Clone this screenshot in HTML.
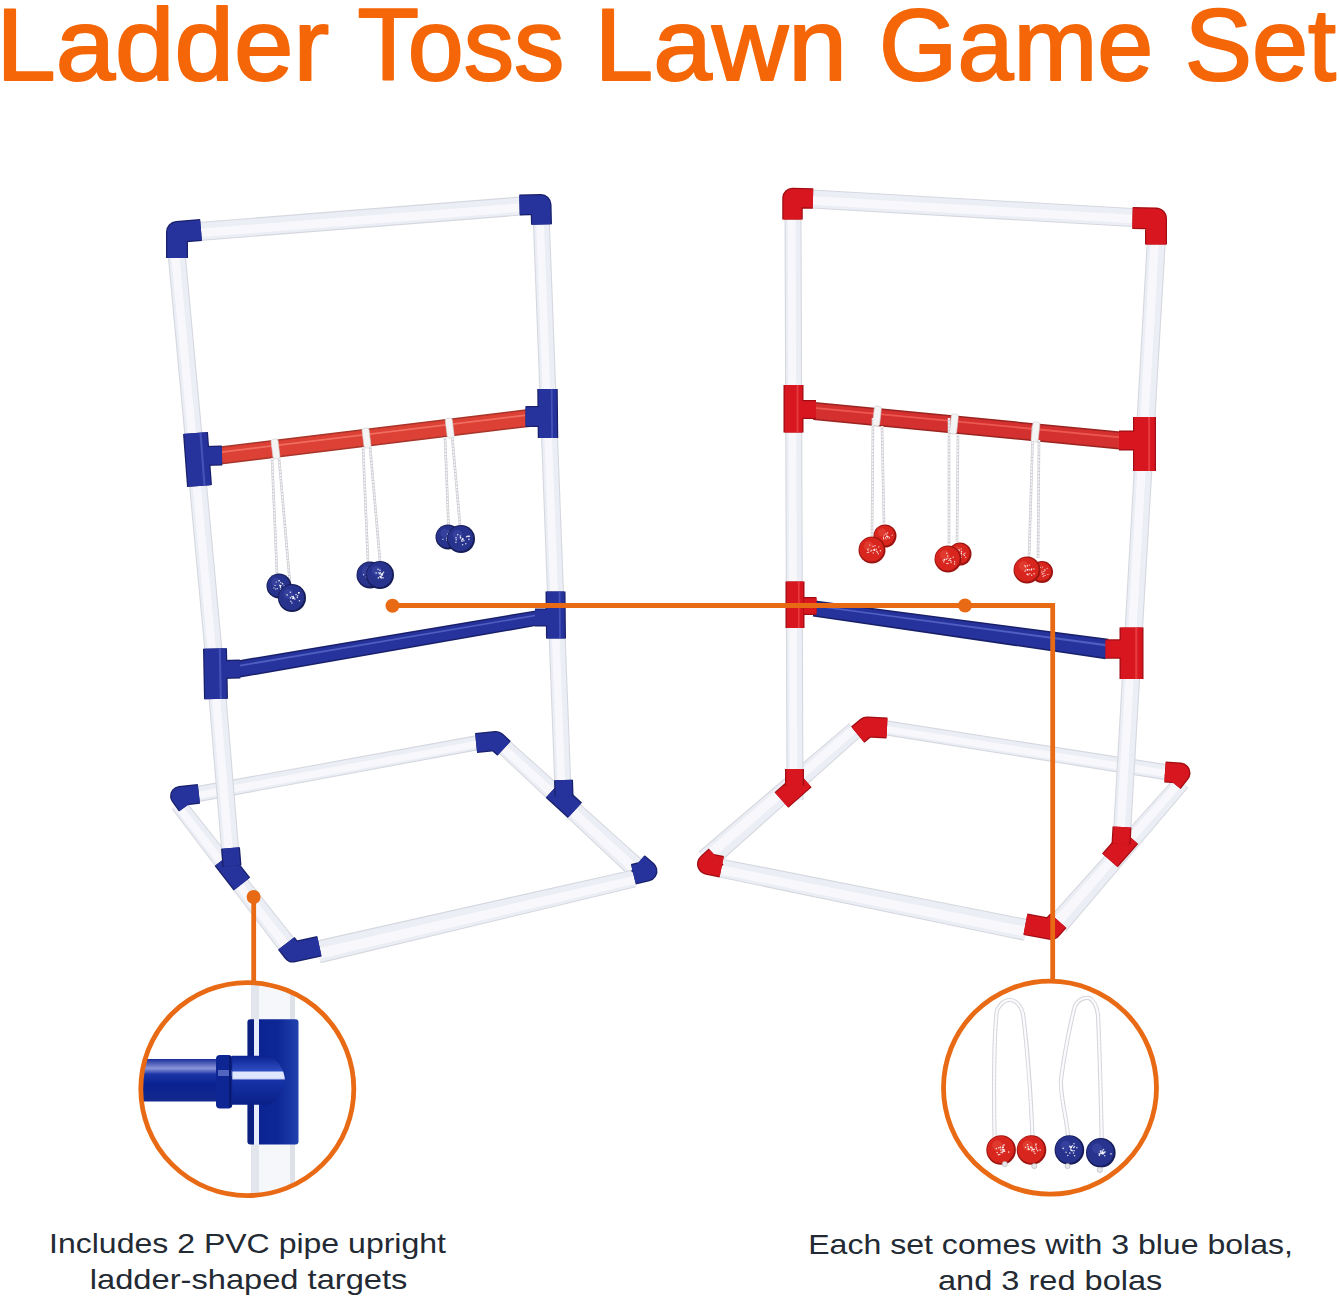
<!DOCTYPE html>
<html><head><meta charset="utf-8">
<style>
html,body{margin:0;padding:0;background:#ffffff;}
body{width:1339px;height:1300px;overflow:hidden;position:relative;}
svg{position:absolute;left:0;top:0;}
</style></head>
<body>
<svg width="1339" height="1300" viewBox="0 0 1339 1300">
<rect width="1339" height="1300" fill="#ffffff"/>
<g font-family="Liberation Sans, sans-serif" font-size="102.6" fill="#f46607" stroke="#f46607" stroke-width="2.1" stroke-linejoin="round">
<text transform="translate(-3.79,80) scale(1.0418,1)">Ladder</text>
<text transform="translate(357.52,80) scale(0.9807,1)">Toss</text>
<text transform="translate(594.6,80) scale(1.0289,1)">Lawn</text>
<text transform="translate(879.07,80) scale(0.9815,1)">Game</text>
<text transform="translate(1184.75,80) scale(0.9821,1)">Set</text>
</g>
<polygon points="199.4,801.9 477.4,750.4 474.6,735.6 196.6,786.1" fill="#d6d8df"/>
<polygon points="199.2,800.8 477.2,749.3 474.8,736.7 196.8,787.2" fill="#eceef5"/>
<polygon points="198.9,798.8 476.8,747.5 475.6,740.9 197.6,791.7" fill="#f8f8fc"/>
<polygon points="171.7,808.9 280.1,952.1 295.9,939.9 184.3,799.1" fill="#d6d8df"/>
<polygon points="172.5,808.2 281.0,951.5 295.0,940.5 183.5,799.8" fill="#eceef5"/>
<polygon points="174.1,807.0 283.2,949.7 290.3,944.2 179.8,802.6" fill="#f8f8fc"/>
<polygon points="496.3,751.3 628.9,875.7 643.1,860.3 507.7,738.7" fill="#d6d8df"/>
<polygon points="497.0,750.5 629.6,874.9 642.4,861.1 507.0,739.5" fill="#eceef5"/>
<polygon points="498.5,748.8 631.7,872.7 638.1,865.8 503.7,743.2" fill="#f8f8fc"/>
<polygon points="320.6,963.2 636.0,887.3 632.0,869.7 315.4,940.8" fill="#d6d8df"/>
<polygon points="320.4,962.1 635.8,886.2 632.2,870.8 315.6,941.9" fill="#eceef5"/>
<polygon points="319.6,958.8 635.2,883.8 633.4,876.0 317.2,948.8" fill="#f8f8fc"/>
<polygon points="166.8,245.8 206.5,673.8 224.5,672.2 184.8,244.2" fill="#d6d8df"/>
<polygon points="167.9,245.7 207.6,673.7 223.4,672.3 183.7,244.3" fill="#eceef5"/>
<polygon points="170.3,245.5 210.0,673.5 218.1,672.8 178.4,244.8" fill="#f8f8fc"/>
<polygon points="206.5,673.7 222.4,865.7 240.4,864.3 224.5,672.3" fill="#d6d8df"/>
<polygon points="207.6,673.7 223.5,865.7 239.3,864.3 223.4,672.3" fill="#eceef5"/>
<polygon points="210.0,673.5 225.9,865.5 234.0,864.8 218.1,672.8" fill="#f8f8fc"/>
<polygon points="532.6,215.3 554.7,795.3 571.7,794.7 549.6,214.7" fill="#d6d8df"/>
<polygon points="533.7,215.3 555.8,795.3 570.6,794.7 548.5,214.7" fill="#eceef5"/>
<polygon points="535.9,215.2 558.0,795.2 565.6,794.9 543.6,214.9" fill="#f8f8fc"/>
<polygon points="199.7,241.0 521.7,215.5 520.3,196.5 198.3,222.0" fill="#d6d8df"/>
<polygon points="199.7,239.9 521.7,214.4 520.3,197.6 198.3,223.1" fill="#eceef5"/>
<polygon points="199.5,237.3 521.5,211.8 520.8,203.3 198.8,228.8" fill="#f8f8fc"/>
<polygon points="221.1,464.4 530.1,426.9 527.9,409.1 218.9,446.6" fill="#a8342a"/>
<polygon points="220.9,462.9 529.9,425.4 528.1,410.6 219.1,448.1" fill="#dd4034"/>
<polygon points="219.7,453.2 528.7,415.7 528.5,413.9 219.5,451.4" fill="#ff9385" opacity="0.55"/>
<polygon points="237.5,678.1 538.3,625.6 535.7,610.4 234.5,660.9" fill="#18206a"/>
<polygon points="237.2,676.6 538.1,624.2 535.9,611.8 234.8,662.4" fill="#27339c"/>
<polygon points="235.6,667.3 536.7,616.0 536.4,614.5 235.3,665.5" fill="#6f82e0" opacity="0.55"/>
<path d="M201.0,230.0 L177.0,232.0 L177.0,258.0" fill="none" stroke="#18206a" stroke-width="22.0" stroke-linejoin="round"/>
<path d="M201.0,230.0 L177.0,232.0 L177.0,258.0" fill="none" stroke="#27339c" stroke-width="19.5" stroke-linejoin="round"/>
<path d="M519.5,205.0 L541.0,204.5 L541.5,224.5" fill="none" stroke="#18206a" stroke-width="21.0" stroke-linejoin="round"/>
<path d="M519.5,205.0 L541.0,204.5 L541.5,224.5" fill="none" stroke="#27339c" stroke-width="18.5" stroke-linejoin="round"/>
<line x1="195.5" y1="433.0" x2="199.5" y2="486.0" stroke="#18206a" stroke-width="25.0" stroke-linecap="butt"/>
<line x1="204.0" y1="456.0" x2="222.0" y2="455.5" stroke="#18206a" stroke-width="20.0" stroke-linecap="butt"/>
<line x1="195.5" y1="433.0" x2="199.5" y2="486.0" stroke="#27339c" stroke-width="22.5" stroke-linecap="butt"/>
<line x1="204.0" y1="456.0" x2="222.0" y2="455.5" stroke="#27339c" stroke-width="17.5" stroke-linecap="butt"/>
<line x1="200.5" y1="432.6" x2="204.5" y2="485.6" stroke="#6f82e0" stroke-width="2.2" stroke-linecap="butt" opacity="0.4"/>
<line x1="547.5" y1="389.0" x2="548.0" y2="438.0" stroke="#18206a" stroke-width="20.5" stroke-linecap="butt"/>
<line x1="525.5" y1="416.5" x2="541.0" y2="416.5" stroke="#18206a" stroke-width="21.0" stroke-linecap="butt"/>
<line x1="547.5" y1="389.0" x2="548.0" y2="438.0" stroke="#27339c" stroke-width="18.0" stroke-linecap="butt"/>
<line x1="525.5" y1="416.5" x2="541.0" y2="416.5" stroke="#27339c" stroke-width="18.5" stroke-linecap="butt"/>
<line x1="551.6" y1="389.0" x2="552.1" y2="438.0" stroke="#6f82e0" stroke-width="1.8" stroke-linecap="butt" opacity="0.4"/>
<line x1="215.0" y1="648.5" x2="216.0" y2="699.0" stroke="#18206a" stroke-width="24.0" stroke-linecap="butt"/>
<line x1="222.0" y1="669.5" x2="240.0" y2="669.0" stroke="#18206a" stroke-width="19.0" stroke-linecap="butt"/>
<line x1="215.0" y1="648.5" x2="216.0" y2="699.0" stroke="#27339c" stroke-width="21.5" stroke-linecap="butt"/>
<line x1="222.0" y1="669.5" x2="240.0" y2="669.0" stroke="#27339c" stroke-width="16.5" stroke-linecap="butt"/>
<line x1="219.8" y1="648.4" x2="220.8" y2="698.9" stroke="#6f82e0" stroke-width="2.2" stroke-linecap="butt" opacity="0.4"/>
<line x1="555.5" y1="591.5" x2="556.0" y2="638.5" stroke="#18206a" stroke-width="20.0" stroke-linecap="butt"/>
<line x1="535.0" y1="617.5" x2="549.0" y2="617.5" stroke="#18206a" stroke-width="18.0" stroke-linecap="butt"/>
<line x1="555.5" y1="591.5" x2="556.0" y2="638.5" stroke="#27339c" stroke-width="17.5" stroke-linecap="butt"/>
<line x1="535.0" y1="617.5" x2="549.0" y2="617.5" stroke="#27339c" stroke-width="15.5" stroke-linecap="butt"/>
<line x1="559.5" y1="591.5" x2="560.0" y2="638.5" stroke="#6f82e0" stroke-width="1.8" stroke-linecap="butt" opacity="0.4"/>
<path d="M198.9,793.9 L180.0,796.0 L187.0,805.7" fill="none" stroke="#18206a" stroke-width="20.0" stroke-linejoin="round"/>
<path d="M198.9,793.9 L180.0,796.0 L187.0,805.7" fill="none" stroke="#27339c" stroke-width="17.5" stroke-linejoin="round"/>
<path d="M476.1,743.0 L496.0,741.0 L504.1,748.4" fill="none" stroke="#18206a" stroke-width="20.0" stroke-linejoin="round"/>
<path d="M476.1,743.0 L496.0,741.0 L504.1,748.4" fill="none" stroke="#27339c" stroke-width="17.5" stroke-linejoin="round"/>
<path d="M633.4,874.3 L647.0,871.0 L637.9,863.1" fill="none" stroke="#18206a" stroke-width="21.0" stroke-linejoin="round"/>
<path d="M633.4,874.3 L647.0,871.0 L637.9,863.1" fill="none" stroke="#27339c" stroke-width="18.5" stroke-linejoin="round"/>
<path d="M319.4,946.3 L293.0,952.0 L286.3,943.3" fill="none" stroke="#18206a" stroke-width="21.0" stroke-linejoin="round"/>
<path d="M319.4,946.3 L293.0,952.0 L286.3,943.3" fill="none" stroke="#27339c" stroke-width="18.5" stroke-linejoin="round"/>
<line x1="222.9" y1="859.6" x2="241.9" y2="884.0" stroke="#18206a" stroke-width="21.0" stroke-linecap="butt"/>
<line x1="222.9" y1="859.6" x2="241.9" y2="884.0" stroke="#27339c" stroke-width="18.5" stroke-linecap="butt"/>
<line x1="230.5" y1="848.0" x2="232.0" y2="866.0" stroke="#18206a" stroke-width="19.0" stroke-linecap="butt"/>
<line x1="230.5" y1="848.0" x2="232.0" y2="866.0" stroke="#27339c" stroke-width="16.5" stroke-linecap="butt"/>
<line x1="552.8" y1="790.0" x2="574.9" y2="810.3" stroke="#18206a" stroke-width="21.0" stroke-linecap="butt"/>
<line x1="552.8" y1="790.0" x2="574.9" y2="810.3" stroke="#27339c" stroke-width="18.5" stroke-linecap="butt"/>
<line x1="563.5" y1="780.0" x2="564.0" y2="796.0" stroke="#18206a" stroke-width="19.0" stroke-linecap="butt"/>
<line x1="563.5" y1="780.0" x2="564.0" y2="796.0" stroke="#27339c" stroke-width="16.5" stroke-linecap="butt"/>
<path d="M272.0,458.0 L277.0,574.0" fill="none" stroke="#cdcdd3" stroke-width="2.6" stroke-linejoin="round"/>
<path d="M272.0,458.0 L277.0,574.0" fill="none" stroke="#fafafc" stroke-width="1.3" stroke-linejoin="round" stroke-dasharray="2 1.2"/>
<path d="M279.0,458.0 L290.0,584.0" fill="none" stroke="#cdcdd3" stroke-width="2.6" stroke-linejoin="round"/>
<path d="M279.0,458.0 L290.0,584.0" fill="none" stroke="#fafafc" stroke-width="1.3" stroke-linejoin="round" stroke-dasharray="2 1.2"/>
<path d="M363.0,447.0 L368.0,562.0" fill="none" stroke="#cdcdd3" stroke-width="2.6" stroke-linejoin="round"/>
<path d="M363.0,447.0 L368.0,562.0" fill="none" stroke="#fafafc" stroke-width="1.3" stroke-linejoin="round" stroke-dasharray="2 1.2"/>
<path d="M370.0,446.0 L380.0,561.0" fill="none" stroke="#cdcdd3" stroke-width="2.6" stroke-linejoin="round"/>
<path d="M370.0,446.0 L380.0,561.0" fill="none" stroke="#fafafc" stroke-width="1.3" stroke-linejoin="round" stroke-dasharray="2 1.2"/>
<path d="M445.0,437.0 L448.5,525.0" fill="none" stroke="#cdcdd3" stroke-width="2.6" stroke-linejoin="round"/>
<path d="M445.0,437.0 L448.5,525.0" fill="none" stroke="#fafafc" stroke-width="1.3" stroke-linejoin="round" stroke-dasharray="2 1.2"/>
<path d="M452.0,435.0 L460.0,525.0" fill="none" stroke="#cdcdd3" stroke-width="2.6" stroke-linejoin="round"/>
<path d="M452.0,435.0 L460.0,525.0" fill="none" stroke="#fafafc" stroke-width="1.3" stroke-linejoin="round" stroke-dasharray="2 1.2"/>
<rect x="272.0" y="439.0" width="7" height="20.0" rx="2" fill="#f4f4f4" stroke="#d0d0d0" stroke-width="0.6" transform="rotate(-7 275.5 449.0)"/>
<rect x="363.0" y="428.0" width="7" height="20.0" rx="2" fill="#f4f4f4" stroke="#d0d0d0" stroke-width="0.6" transform="rotate(-7 366.5 438.0)"/>
<rect x="446.2" y="418.0" width="7" height="20.0" rx="2" fill="#f4f4f4" stroke="#d0d0d0" stroke-width="0.6" transform="rotate(-7 449.7 428.0)"/>
<circle cx="279.0" cy="586.0" r="12.5" fill="#161c58"/>
<circle cx="278.5" cy="585.5" r="11.1" fill="#28338e"/>
<circle cx="275.9" cy="582.2" r="4.4" fill="#4a58b8" opacity="0.35"/>
<circle cx="280.8" cy="589.3" r="0.7" fill="#ffffff" opacity="0.8"/>
<circle cx="277.4" cy="588.6" r="0.7" fill="#ffffff" opacity="0.8"/>
<circle cx="280.2" cy="585.7" r="0.7" fill="#ffffff" opacity="0.8"/>
<circle cx="286.8" cy="586.4" r="0.7" fill="#ffffff" opacity="0.8"/>
<circle cx="280.4" cy="587.4" r="0.7" fill="#ffffff" opacity="0.8"/>
<circle cx="284.0" cy="585.9" r="0.7" fill="#ffffff" opacity="0.8"/>
<circle cx="282.3" cy="583.5" r="0.7" fill="#ffffff" opacity="0.8"/>
<circle cx="279.8" cy="585.3" r="0.7" fill="#ffffff" opacity="0.8"/>
<circle cx="276.2" cy="582.1" r="0.7" fill="#ffffff" opacity="0.8"/>
<circle cx="275.0" cy="585.4" r="0.7" fill="#ffffff" opacity="0.8"/>
<circle cx="280.3" cy="585.7" r="0.7" fill="#ffffff" opacity="0.8"/>
<circle cx="280.7" cy="582.5" r="0.7" fill="#ffffff" opacity="0.8"/>
<circle cx="280.4" cy="586.2" r="0.7" fill="#ffffff" opacity="0.8"/>
<circle cx="282.8" cy="583.9" r="0.7" fill="#ffffff" opacity="0.8"/>
<circle cx="279.2" cy="580.8" r="0.7" fill="#ffffff" opacity="0.8"/>
<circle cx="278.9" cy="580.6" r="0.7" fill="#ffffff" opacity="0.8"/>
<circle cx="275.8" cy="589.0" r="0.7" fill="#ffffff" opacity="0.8"/>
<circle cx="273.9" cy="587.9" r="0.7" fill="#ffffff" opacity="0.8"/>
<circle cx="281.0" cy="585.6" r="0.7" fill="#ffffff" opacity="0.8"/>
<circle cx="292.0" cy="598.0" r="14.0" fill="#161c58"/>
<circle cx="291.5" cy="597.5" r="12.6" fill="#28338e"/>
<circle cx="288.5" cy="593.8" r="4.9" fill="#4a58b8" opacity="0.35"/>
<circle cx="294.9" cy="599.1" r="0.8" fill="#ffffff" opacity="0.8"/>
<circle cx="297.3" cy="597.4" r="0.8" fill="#ffffff" opacity="0.8"/>
<circle cx="291.9" cy="596.6" r="0.8" fill="#ffffff" opacity="0.8"/>
<circle cx="290.4" cy="597.9" r="0.8" fill="#ffffff" opacity="0.8"/>
<circle cx="290.8" cy="601.2" r="0.8" fill="#ffffff" opacity="0.8"/>
<circle cx="287.1" cy="594.9" r="0.8" fill="#ffffff" opacity="0.8"/>
<circle cx="290.4" cy="592.3" r="0.8" fill="#ffffff" opacity="0.8"/>
<circle cx="298.8" cy="592.8" r="0.8" fill="#ffffff" opacity="0.8"/>
<circle cx="293.0" cy="597.0" r="0.8" fill="#ffffff" opacity="0.8"/>
<circle cx="298.9" cy="593.0" r="0.8" fill="#ffffff" opacity="0.8"/>
<circle cx="297.6" cy="595.8" r="0.8" fill="#ffffff" opacity="0.8"/>
<circle cx="293.3" cy="596.6" r="0.8" fill="#ffffff" opacity="0.8"/>
<circle cx="296.0" cy="594.6" r="0.8" fill="#ffffff" opacity="0.8"/>
<circle cx="293.6" cy="598.4" r="0.8" fill="#ffffff" opacity="0.8"/>
<circle cx="298.7" cy="592.7" r="0.8" fill="#ffffff" opacity="0.8"/>
<circle cx="299.4" cy="600.8" r="0.8" fill="#ffffff" opacity="0.8"/>
<circle cx="292.6" cy="598.5" r="0.8" fill="#ffffff" opacity="0.8"/>
<circle cx="291.9" cy="603.0" r="0.8" fill="#ffffff" opacity="0.8"/>
<circle cx="293.9" cy="597.8" r="0.8" fill="#ffffff" opacity="0.8"/>
<circle cx="293.4" cy="597.8" r="0.8" fill="#ffffff" opacity="0.8"/>
<circle cx="370.0" cy="575.0" r="13.5" fill="#161c58"/>
<circle cx="369.5" cy="574.5" r="12.1" fill="#28338e"/>
<circle cx="366.6" cy="571.0" r="4.7" fill="#4a58b8" opacity="0.35"/>
<circle cx="371.1" cy="572.9" r="0.7" fill="#ffffff" opacity="0.8"/>
<circle cx="377.4" cy="570.7" r="0.7" fill="#ffffff" opacity="0.8"/>
<circle cx="363.5" cy="574.8" r="0.7" fill="#ffffff" opacity="0.8"/>
<circle cx="371.4" cy="575.5" r="0.7" fill="#ffffff" opacity="0.8"/>
<circle cx="371.4" cy="574.9" r="0.7" fill="#ffffff" opacity="0.8"/>
<circle cx="372.7" cy="577.5" r="0.7" fill="#ffffff" opacity="0.8"/>
<circle cx="370.6" cy="574.4" r="0.7" fill="#ffffff" opacity="0.8"/>
<circle cx="378.4" cy="576.5" r="0.7" fill="#ffffff" opacity="0.8"/>
<circle cx="368.6" cy="580.7" r="0.7" fill="#ffffff" opacity="0.8"/>
<circle cx="374.1" cy="573.5" r="0.7" fill="#ffffff" opacity="0.8"/>
<circle cx="367.5" cy="575.8" r="0.7" fill="#ffffff" opacity="0.8"/>
<circle cx="368.6" cy="572.0" r="0.7" fill="#ffffff" opacity="0.8"/>
<circle cx="366.9" cy="573.5" r="0.7" fill="#ffffff" opacity="0.8"/>
<circle cx="375.4" cy="573.8" r="0.7" fill="#ffffff" opacity="0.8"/>
<circle cx="366.3" cy="577.0" r="0.7" fill="#ffffff" opacity="0.8"/>
<circle cx="371.8" cy="576.9" r="0.7" fill="#ffffff" opacity="0.8"/>
<circle cx="375.8" cy="574.5" r="0.7" fill="#ffffff" opacity="0.8"/>
<circle cx="371.5" cy="575.0" r="0.7" fill="#ffffff" opacity="0.8"/>
<circle cx="367.6" cy="576.9" r="0.7" fill="#ffffff" opacity="0.8"/>
<circle cx="376.6" cy="575.5" r="0.7" fill="#ffffff" opacity="0.8"/>
<circle cx="380.0" cy="575.0" r="14.0" fill="#161c58"/>
<circle cx="379.5" cy="574.5" r="12.6" fill="#28338e"/>
<circle cx="376.5" cy="570.8" r="4.9" fill="#4a58b8" opacity="0.35"/>
<circle cx="381.3" cy="574.7" r="0.8" fill="#ffffff" opacity="0.8"/>
<circle cx="378.9" cy="572.8" r="0.8" fill="#ffffff" opacity="0.8"/>
<circle cx="380.4" cy="572.9" r="0.8" fill="#ffffff" opacity="0.8"/>
<circle cx="380.0" cy="570.2" r="0.8" fill="#ffffff" opacity="0.8"/>
<circle cx="382.2" cy="575.1" r="0.8" fill="#ffffff" opacity="0.8"/>
<circle cx="378.0" cy="569.2" r="0.8" fill="#ffffff" opacity="0.8"/>
<circle cx="381.7" cy="578.1" r="0.8" fill="#ffffff" opacity="0.8"/>
<circle cx="379.4" cy="573.8" r="0.8" fill="#ffffff" opacity="0.8"/>
<circle cx="380.0" cy="576.6" r="0.8" fill="#ffffff" opacity="0.8"/>
<circle cx="378.3" cy="577.9" r="0.8" fill="#ffffff" opacity="0.8"/>
<circle cx="380.7" cy="577.4" r="0.8" fill="#ffffff" opacity="0.8"/>
<circle cx="381.7" cy="574.8" r="0.8" fill="#ffffff" opacity="0.8"/>
<circle cx="376.1" cy="572.9" r="0.8" fill="#ffffff" opacity="0.8"/>
<circle cx="381.0" cy="576.4" r="0.8" fill="#ffffff" opacity="0.8"/>
<circle cx="382.3" cy="573.5" r="0.8" fill="#ffffff" opacity="0.8"/>
<circle cx="383.1" cy="577.7" r="0.8" fill="#ffffff" opacity="0.8"/>
<circle cx="381.4" cy="574.4" r="0.8" fill="#ffffff" opacity="0.8"/>
<circle cx="380.5" cy="577.0" r="0.8" fill="#ffffff" opacity="0.8"/>
<circle cx="383.5" cy="572.4" r="0.8" fill="#ffffff" opacity="0.8"/>
<circle cx="382.6" cy="574.1" r="0.8" fill="#ffffff" opacity="0.8"/>
<circle cx="448.0" cy="537.0" r="12.5" fill="#161c58"/>
<circle cx="447.5" cy="536.5" r="11.1" fill="#28338e"/>
<circle cx="444.9" cy="533.2" r="4.4" fill="#4a58b8" opacity="0.35"/>
<circle cx="447.0" cy="540.3" r="0.7" fill="#ffffff" opacity="0.8"/>
<circle cx="452.0" cy="535.2" r="0.7" fill="#ffffff" opacity="0.8"/>
<circle cx="449.6" cy="537.7" r="0.7" fill="#ffffff" opacity="0.8"/>
<circle cx="448.1" cy="536.8" r="0.7" fill="#ffffff" opacity="0.8"/>
<circle cx="451.7" cy="532.3" r="0.7" fill="#ffffff" opacity="0.8"/>
<circle cx="450.3" cy="538.5" r="0.7" fill="#ffffff" opacity="0.8"/>
<circle cx="451.2" cy="533.4" r="0.7" fill="#ffffff" opacity="0.8"/>
<circle cx="450.4" cy="535.1" r="0.7" fill="#ffffff" opacity="0.8"/>
<circle cx="451.0" cy="538.3" r="0.7" fill="#ffffff" opacity="0.8"/>
<circle cx="450.0" cy="535.4" r="0.7" fill="#ffffff" opacity="0.8"/>
<circle cx="447.7" cy="539.1" r="0.7" fill="#ffffff" opacity="0.8"/>
<circle cx="446.8" cy="538.2" r="0.7" fill="#ffffff" opacity="0.8"/>
<circle cx="450.5" cy="536.5" r="0.7" fill="#ffffff" opacity="0.8"/>
<circle cx="456.6" cy="537.2" r="0.7" fill="#ffffff" opacity="0.8"/>
<circle cx="454.9" cy="532.9" r="0.7" fill="#ffffff" opacity="0.8"/>
<circle cx="443.0" cy="539.3" r="0.7" fill="#ffffff" opacity="0.8"/>
<circle cx="451.0" cy="536.4" r="0.7" fill="#ffffff" opacity="0.8"/>
<circle cx="449.3" cy="532.0" r="0.7" fill="#ffffff" opacity="0.8"/>
<circle cx="447.5" cy="534.3" r="0.7" fill="#ffffff" opacity="0.8"/>
<circle cx="461.0" cy="539.0" r="14.0" fill="#161c58"/>
<circle cx="460.5" cy="538.5" r="12.6" fill="#28338e"/>
<circle cx="457.5" cy="534.8" r="4.9" fill="#4a58b8" opacity="0.35"/>
<circle cx="462.0" cy="541.2" r="0.8" fill="#ffffff" opacity="0.8"/>
<circle cx="462.8" cy="539.5" r="0.8" fill="#ffffff" opacity="0.8"/>
<circle cx="460.6" cy="538.0" r="0.8" fill="#ffffff" opacity="0.8"/>
<circle cx="462.8" cy="538.7" r="0.8" fill="#ffffff" opacity="0.8"/>
<circle cx="467.5" cy="536.3" r="0.8" fill="#ffffff" opacity="0.8"/>
<circle cx="469.4" cy="536.2" r="0.8" fill="#ffffff" opacity="0.8"/>
<circle cx="466.6" cy="536.7" r="0.8" fill="#ffffff" opacity="0.8"/>
<circle cx="468.9" cy="539.4" r="0.8" fill="#ffffff" opacity="0.8"/>
<circle cx="463.9" cy="540.8" r="0.8" fill="#ffffff" opacity="0.8"/>
<circle cx="460.4" cy="536.0" r="0.8" fill="#ffffff" opacity="0.8"/>
<circle cx="455.9" cy="542.3" r="0.8" fill="#ffffff" opacity="0.8"/>
<circle cx="460.5" cy="537.5" r="0.8" fill="#ffffff" opacity="0.8"/>
<circle cx="462.6" cy="544.8" r="0.8" fill="#ffffff" opacity="0.8"/>
<circle cx="456.2" cy="539.8" r="0.8" fill="#ffffff" opacity="0.8"/>
<circle cx="461.7" cy="540.1" r="0.8" fill="#ffffff" opacity="0.8"/>
<circle cx="456.0" cy="537.8" r="0.8" fill="#ffffff" opacity="0.8"/>
<circle cx="465.8" cy="543.7" r="0.8" fill="#ffffff" opacity="0.8"/>
<circle cx="468.6" cy="536.4" r="0.8" fill="#ffffff" opacity="0.8"/>
<circle cx="462.7" cy="539.0" r="0.8" fill="#ffffff" opacity="0.8"/>
<circle cx="457.7" cy="534.8" r="0.8" fill="#ffffff" opacity="0.8"/>
<polygon points="885.8,735.4 1163.7,779.9 1166.3,764.1 888.2,720.6" fill="#d6d8df"/>
<polygon points="886.0,734.3 1163.9,778.8 1166.1,765.2 888.0,721.7" fill="#eceef5"/>
<polygon points="886.3,732.5 1164.2,776.8 1165.4,769.7 887.3,725.9" fill="#f8f8fc"/>
<polygon points="849.1,723.2 698.6,851.5 713.4,868.5 860.9,736.8" fill="#d6d8df"/>
<polygon points="849.8,724.0 699.3,852.4 712.7,867.6 860.2,736.0" fill="#eceef5"/>
<polygon points="851.4,725.9 701.5,854.8 708.1,862.5 856.7,732.0" fill="#f8f8fc"/>
<polygon points="718.1,877.3 1023.8,940.8 1028.2,919.2 721.9,858.7" fill="#d6d8df"/>
<polygon points="718.3,876.2 1024.0,939.7 1028.0,920.3 721.7,859.8" fill="#eceef5"/>
<polygon points="718.8,873.7 1024.7,936.6 1026.6,926.9 720.5,865.3" fill="#f8f8fc"/>
<polygon points="1175.6,776.4 1049.7,916.8 1066.3,931.2 1188.4,787.6" fill="#d6d8df"/>
<polygon points="1176.4,777.1 1050.5,917.5 1065.5,930.5 1187.6,786.9" fill="#eceef5"/>
<polygon points="1178.1,778.6 1052.9,919.6 1060.4,926.1 1183.9,783.6" fill="#f8f8fc"/>
<polygon points="784.5,210.0 786.5,800.0 803.5,800.0 801.5,210.0" fill="#d6d8df"/>
<polygon points="785.6,210.0 787.6,800.0 802.4,800.0 800.4,210.0" fill="#eceef5"/>
<polygon points="787.8,210.0 789.8,800.0 797.4,800.0 795.5,210.0" fill="#f8f8fc"/>
<polygon points="1147.1,235.4 1112.0,849.5 1130.0,850.5 1166.1,236.6" fill="#d6d8df"/>
<polygon points="1148.2,235.5 1113.1,849.5 1128.9,850.5 1165.0,236.5" fill="#eceef5"/>
<polygon points="1150.8,235.7 1115.5,849.7 1123.6,850.2 1159.3,236.2" fill="#f8f8fc"/>
<polygon points="811.5,208.5 1131.5,227.0 1132.5,208.0 812.5,189.5" fill="#d6d8df"/>
<polygon points="811.5,207.4 1131.5,225.9 1132.5,209.1 812.5,190.6" fill="#eceef5"/>
<polygon points="811.7,204.8 1131.7,223.3 1132.2,214.7 812.2,196.2" fill="#f8f8fc"/>
<polygon points="813.1,420.0 1119.1,449.5 1120.9,431.5 814.9,402.0" fill="#9a2420"/>
<polygon points="813.3,418.5 1119.3,448.0 1120.7,433.0 814.7,403.5" fill="#d43030"/>
<polygon points="814.2,408.7 1120.2,438.2 1120.4,436.4 814.4,406.9" fill="#ff7a6a" opacity="0.55"/>
<polygon points="812.9,616.4 1105.6,659.2 1108.4,638.8 815.1,600.6" fill="#18206a"/>
<polygon points="813.1,614.9 1105.8,657.7 1108.2,640.3 814.9,602.1" fill="#27339c"/>
<polygon points="814.3,606.4 1107.4,646.4 1107.6,644.3 814.5,604.9" fill="#6f82e0" opacity="0.55"/>
<path d="M813.0,198.5 L792.5,198.0 L792.5,219.5" fill="none" stroke="#a00d12" stroke-width="20.5" stroke-linejoin="round"/>
<path d="M813.0,198.5 L792.5,198.0 L792.5,219.5" fill="none" stroke="#d8161f" stroke-width="18.0" stroke-linejoin="round"/>
<path d="M1132.5,218.0 L1156.0,218.5 L1156.0,244.5" fill="none" stroke="#a00d12" stroke-width="22.0" stroke-linejoin="round"/>
<path d="M1132.5,218.0 L1156.0,218.5 L1156.0,244.5" fill="none" stroke="#d8161f" stroke-width="19.5" stroke-linejoin="round"/>
<line x1="793.5" y1="385.0" x2="793.5" y2="432.5" stroke="#a00d12" stroke-width="20.0" stroke-linecap="butt"/>
<line x1="802.0" y1="409.5" x2="816.0" y2="409.5" stroke="#a00d12" stroke-width="19.0" stroke-linecap="butt"/>
<line x1="793.5" y1="385.0" x2="793.5" y2="432.5" stroke="#d8161f" stroke-width="17.5" stroke-linecap="butt"/>
<line x1="802.0" y1="409.5" x2="816.0" y2="409.5" stroke="#d8161f" stroke-width="16.5" stroke-linecap="butt"/>
<line x1="797.5" y1="385.0" x2="797.5" y2="432.5" stroke="#ff6f70" stroke-width="1.8" stroke-linecap="butt" opacity="0.4"/>
<line x1="1144.5" y1="417.0" x2="1144.5" y2="471.0" stroke="#a00d12" stroke-width="23.0" stroke-linecap="butt"/>
<line x1="1119.0" y1="440.5" x2="1136.0" y2="440.5" stroke="#a00d12" stroke-width="20.0" stroke-linecap="butt"/>
<line x1="1144.5" y1="417.0" x2="1144.5" y2="471.0" stroke="#d8161f" stroke-width="20.5" stroke-linecap="butt"/>
<line x1="1119.0" y1="440.5" x2="1136.0" y2="440.5" stroke="#d8161f" stroke-width="17.5" stroke-linecap="butt"/>
<line x1="1149.1" y1="417.0" x2="1149.1" y2="471.0" stroke="#ff6f70" stroke-width="2.1" stroke-linecap="butt" opacity="0.4"/>
<line x1="795.0" y1="581.5" x2="795.0" y2="628.0" stroke="#a00d12" stroke-width="19.0" stroke-linecap="butt"/>
<line x1="804.0" y1="606.0" x2="816.5" y2="606.0" stroke="#a00d12" stroke-width="18.0" stroke-linecap="butt"/>
<line x1="795.0" y1="581.5" x2="795.0" y2="628.0" stroke="#d8161f" stroke-width="16.5" stroke-linecap="butt"/>
<line x1="804.0" y1="606.0" x2="816.5" y2="606.0" stroke="#d8161f" stroke-width="15.5" stroke-linecap="butt"/>
<line x1="798.8" y1="581.5" x2="798.8" y2="628.0" stroke="#ff6f70" stroke-width="1.7" stroke-linecap="butt" opacity="0.4"/>
<line x1="1131.5" y1="627.5" x2="1131.5" y2="679.0" stroke="#a00d12" stroke-width="24.0" stroke-linecap="butt"/>
<line x1="1105.5" y1="649.0" x2="1124.0" y2="649.0" stroke="#a00d12" stroke-width="19.5" stroke-linecap="butt"/>
<line x1="1131.5" y1="627.5" x2="1131.5" y2="679.0" stroke="#d8161f" stroke-width="21.5" stroke-linecap="butt"/>
<line x1="1105.5" y1="649.0" x2="1124.0" y2="649.0" stroke="#d8161f" stroke-width="17.0" stroke-linecap="butt"/>
<line x1="1136.3" y1="627.5" x2="1136.3" y2="679.0" stroke="#ff6f70" stroke-width="2.2" stroke-linecap="butt" opacity="0.4"/>
<path d="M887.0,728.0 L867.0,727.0 L857.7,734.6" fill="none" stroke="#a00d12" stroke-width="21.0" stroke-linejoin="round"/>
<path d="M887.0,728.0 L867.0,727.0 L857.7,734.6" fill="none" stroke="#d8161f" stroke-width="18.5" stroke-linejoin="round"/>
<path d="M1165.0,772.0 L1180.0,773.0 L1172.5,782.3" fill="none" stroke="#a00d12" stroke-width="21.0" stroke-linejoin="round"/>
<path d="M1165.0,772.0 L1180.0,773.0 L1172.5,782.3" fill="none" stroke="#d8161f" stroke-width="18.5" stroke-linejoin="round"/>
<path d="M721.7,866.8 L708.0,864.0 L716.1,856.6" fill="none" stroke="#a00d12" stroke-width="22.0" stroke-linejoin="round"/>
<path d="M721.7,866.8 L708.0,864.0 L716.1,856.6" fill="none" stroke="#d8161f" stroke-width="19.5" stroke-linejoin="round"/>
<path d="M1025.4,924.3 L1051.0,929.0 L1058.3,920.8" fill="none" stroke="#a00d12" stroke-width="22.0" stroke-linejoin="round"/>
<path d="M1025.4,924.3 L1051.0,929.0 L1058.3,920.8" fill="none" stroke="#d8161f" stroke-width="19.5" stroke-linejoin="round"/>
<line x1="804.7" y1="779.5" x2="781.5" y2="800.0" stroke="#a00d12" stroke-width="21.0" stroke-linecap="butt"/>
<line x1="804.7" y1="779.5" x2="781.5" y2="800.0" stroke="#d8161f" stroke-width="18.5" stroke-linecap="butt"/>
<line x1="794.5" y1="769.0" x2="794.5" y2="786.0" stroke="#a00d12" stroke-width="19.0" stroke-linecap="butt"/>
<line x1="794.5" y1="769.0" x2="794.5" y2="786.0" stroke="#d8161f" stroke-width="16.5" stroke-linecap="butt"/>
<line x1="1130.3" y1="837.1" x2="1109.9" y2="860.4" stroke="#a00d12" stroke-width="21.0" stroke-linecap="butt"/>
<line x1="1130.3" y1="837.1" x2="1109.9" y2="860.4" stroke="#d8161f" stroke-width="18.5" stroke-linecap="butt"/>
<line x1="1122.0" y1="827.0" x2="1121.0" y2="844.0" stroke="#a00d12" stroke-width="19.0" stroke-linecap="butt"/>
<line x1="1122.0" y1="827.0" x2="1121.0" y2="844.0" stroke="#d8161f" stroke-width="16.5" stroke-linecap="butt"/>
<path d="M873.0,418.0 L872.0,536.0" fill="none" stroke="#cdcdd3" stroke-width="2.6" stroke-linejoin="round"/>
<path d="M873.0,418.0 L872.0,536.0" fill="none" stroke="#fafafc" stroke-width="1.3" stroke-linejoin="round" stroke-dasharray="2 1.2"/>
<path d="M882.0,426.0 L884.0,524.0" fill="none" stroke="#cdcdd3" stroke-width="2.6" stroke-linejoin="round"/>
<path d="M882.0,426.0 L884.0,524.0" fill="none" stroke="#fafafc" stroke-width="1.3" stroke-linejoin="round" stroke-dasharray="2 1.2"/>
<path d="M949.0,418.0 L949.0,544.0" fill="none" stroke="#cdcdd3" stroke-width="2.6" stroke-linejoin="round"/>
<path d="M949.0,418.0 L949.0,544.0" fill="none" stroke="#fafafc" stroke-width="1.3" stroke-linejoin="round" stroke-dasharray="2 1.2"/>
<path d="M958.0,434.0 L957.0,542.0" fill="none" stroke="#cdcdd3" stroke-width="2.6" stroke-linejoin="round"/>
<path d="M958.0,434.0 L957.0,542.0" fill="none" stroke="#fafafc" stroke-width="1.3" stroke-linejoin="round" stroke-dasharray="2 1.2"/>
<path d="M1033.0,426.0 L1029.0,558.0" fill="none" stroke="#cdcdd3" stroke-width="2.6" stroke-linejoin="round"/>
<path d="M1033.0,426.0 L1029.0,558.0" fill="none" stroke="#fafafc" stroke-width="1.3" stroke-linejoin="round" stroke-dasharray="2 1.2"/>
<path d="M1039.0,440.0 L1038.0,558.0" fill="none" stroke="#cdcdd3" stroke-width="2.6" stroke-linejoin="round"/>
<path d="M1039.0,440.0 L1038.0,558.0" fill="none" stroke="#fafafc" stroke-width="1.3" stroke-linejoin="round" stroke-dasharray="2 1.2"/>
<rect x="873.5" y="406.0" width="7" height="20.0" rx="2" fill="#f4f4f4" stroke="#d0d0d0" stroke-width="0.6" transform="rotate(6 877.0 416.0)"/>
<rect x="950.5" y="414.0" width="7" height="20.0" rx="2" fill="#f4f4f4" stroke="#d0d0d0" stroke-width="0.6" transform="rotate(6 954.0 424.0)"/>
<rect x="1032.0" y="422.0" width="7" height="20.0" rx="2" fill="#f4f4f4" stroke="#d0d0d0" stroke-width="0.6" transform="rotate(6 1035.5 432.0)"/>
<circle cx="885.0" cy="536.0" r="11.5" fill="#9c1410"/>
<circle cx="884.5" cy="535.5" r="10.1" fill="#d8261e"/>
<circle cx="882.1" cy="532.5" r="4.0" fill="#f06050" opacity="0.35"/>
<circle cx="888.2" cy="536.5" r="0.6" fill="#ffffff" opacity="0.8"/>
<circle cx="886.0" cy="538.9" r="0.6" fill="#ffffff" opacity="0.8"/>
<circle cx="883.5" cy="537.2" r="0.6" fill="#ffffff" opacity="0.8"/>
<circle cx="886.4" cy="536.0" r="0.6" fill="#ffffff" opacity="0.8"/>
<circle cx="887.2" cy="536.2" r="0.6" fill="#ffffff" opacity="0.8"/>
<circle cx="886.7" cy="536.3" r="0.6" fill="#ffffff" opacity="0.8"/>
<circle cx="892.2" cy="535.2" r="0.6" fill="#ffffff" opacity="0.8"/>
<circle cx="889.4" cy="537.4" r="0.6" fill="#ffffff" opacity="0.8"/>
<circle cx="885.5" cy="537.6" r="0.6" fill="#ffffff" opacity="0.8"/>
<circle cx="883.7" cy="538.9" r="0.6" fill="#ffffff" opacity="0.8"/>
<circle cx="884.2" cy="535.0" r="0.6" fill="#ffffff" opacity="0.8"/>
<circle cx="887.2" cy="537.7" r="0.6" fill="#ffffff" opacity="0.8"/>
<circle cx="889.1" cy="538.2" r="0.6" fill="#ffffff" opacity="0.8"/>
<circle cx="885.8" cy="533.9" r="0.6" fill="#ffffff" opacity="0.8"/>
<circle cx="887.5" cy="536.5" r="0.6" fill="#ffffff" opacity="0.8"/>
<circle cx="883.5" cy="538.4" r="0.6" fill="#ffffff" opacity="0.8"/>
<circle cx="886.9" cy="533.9" r="0.6" fill="#ffffff" opacity="0.8"/>
<circle cx="887.7" cy="532.7" r="0.6" fill="#ffffff" opacity="0.8"/>
<circle cx="872.0" cy="550.0" r="13.5" fill="#9c1410"/>
<circle cx="871.5" cy="549.5" r="12.1" fill="#d8261e"/>
<circle cx="868.6" cy="546.0" r="4.7" fill="#f06050" opacity="0.35"/>
<circle cx="870.9" cy="551.0" r="0.7" fill="#ffffff" opacity="0.8"/>
<circle cx="867.9" cy="550.1" r="0.7" fill="#ffffff" opacity="0.8"/>
<circle cx="868.7" cy="552.2" r="0.7" fill="#ffffff" opacity="0.8"/>
<circle cx="871.7" cy="550.4" r="0.7" fill="#ffffff" opacity="0.8"/>
<circle cx="868.1" cy="549.0" r="0.7" fill="#ffffff" opacity="0.8"/>
<circle cx="876.7" cy="551.2" r="0.7" fill="#ffffff" opacity="0.8"/>
<circle cx="867.3" cy="552.6" r="0.7" fill="#ffffff" opacity="0.8"/>
<circle cx="876.4" cy="549.1" r="0.7" fill="#ffffff" opacity="0.8"/>
<circle cx="878.7" cy="546.9" r="0.7" fill="#ffffff" opacity="0.8"/>
<circle cx="873.3" cy="553.0" r="0.7" fill="#ffffff" opacity="0.8"/>
<circle cx="878.3" cy="553.7" r="0.7" fill="#ffffff" opacity="0.8"/>
<circle cx="869.8" cy="545.1" r="0.7" fill="#ffffff" opacity="0.8"/>
<circle cx="875.0" cy="545.8" r="0.7" fill="#ffffff" opacity="0.8"/>
<circle cx="873.1" cy="546.4" r="0.7" fill="#ffffff" opacity="0.8"/>
<circle cx="877.4" cy="552.3" r="0.7" fill="#ffffff" opacity="0.8"/>
<circle cx="874.8" cy="550.0" r="0.7" fill="#ffffff" opacity="0.8"/>
<circle cx="873.7" cy="549.7" r="0.7" fill="#ffffff" opacity="0.8"/>
<circle cx="874.3" cy="550.4" r="0.7" fill="#ffffff" opacity="0.8"/>
<circle cx="874.7" cy="549.2" r="0.7" fill="#ffffff" opacity="0.8"/>
<circle cx="880.4" cy="550.8" r="0.7" fill="#ffffff" opacity="0.8"/>
<circle cx="960.0" cy="554.0" r="11.5" fill="#9c1410"/>
<circle cx="959.5" cy="553.5" r="10.1" fill="#d8261e"/>
<circle cx="957.1" cy="550.5" r="4.0" fill="#f06050" opacity="0.35"/>
<circle cx="965.6" cy="557.2" r="0.6" fill="#ffffff" opacity="0.8"/>
<circle cx="958.7" cy="549.9" r="0.6" fill="#ffffff" opacity="0.8"/>
<circle cx="965.2" cy="553.0" r="0.6" fill="#ffffff" opacity="0.8"/>
<circle cx="961.5" cy="553.8" r="0.6" fill="#ffffff" opacity="0.8"/>
<circle cx="961.8" cy="551.2" r="0.6" fill="#ffffff" opacity="0.8"/>
<circle cx="961.2" cy="553.4" r="0.6" fill="#ffffff" opacity="0.8"/>
<circle cx="961.3" cy="548.8" r="0.6" fill="#ffffff" opacity="0.8"/>
<circle cx="963.5" cy="554.7" r="0.6" fill="#ffffff" opacity="0.8"/>
<circle cx="956.1" cy="552.2" r="0.6" fill="#ffffff" opacity="0.8"/>
<circle cx="961.4" cy="555.0" r="0.6" fill="#ffffff" opacity="0.8"/>
<circle cx="961.4" cy="557.4" r="0.6" fill="#ffffff" opacity="0.8"/>
<circle cx="961.4" cy="551.8" r="0.6" fill="#ffffff" opacity="0.8"/>
<circle cx="959.5" cy="555.6" r="0.6" fill="#ffffff" opacity="0.8"/>
<circle cx="959.7" cy="555.9" r="0.6" fill="#ffffff" opacity="0.8"/>
<circle cx="964.4" cy="555.4" r="0.6" fill="#ffffff" opacity="0.8"/>
<circle cx="964.2" cy="553.6" r="0.6" fill="#ffffff" opacity="0.8"/>
<circle cx="961.4" cy="553.1" r="0.6" fill="#ffffff" opacity="0.8"/>
<circle cx="959.5" cy="550.1" r="0.6" fill="#ffffff" opacity="0.8"/>
<circle cx="948.0" cy="559.0" r="13.5" fill="#9c1410"/>
<circle cx="947.5" cy="558.5" r="12.1" fill="#d8261e"/>
<circle cx="944.6" cy="555.0" r="4.7" fill="#f06050" opacity="0.35"/>
<circle cx="947.7" cy="556.0" r="0.7" fill="#ffffff" opacity="0.8"/>
<circle cx="944.4" cy="559.4" r="0.7" fill="#ffffff" opacity="0.8"/>
<circle cx="950.6" cy="558.4" r="0.7" fill="#ffffff" opacity="0.8"/>
<circle cx="954.6" cy="561.7" r="0.7" fill="#ffffff" opacity="0.8"/>
<circle cx="953.2" cy="557.3" r="0.7" fill="#ffffff" opacity="0.8"/>
<circle cx="944.2" cy="560.6" r="0.7" fill="#ffffff" opacity="0.8"/>
<circle cx="950.5" cy="560.6" r="0.7" fill="#ffffff" opacity="0.8"/>
<circle cx="951.1" cy="562.6" r="0.7" fill="#ffffff" opacity="0.8"/>
<circle cx="948.9" cy="560.4" r="0.7" fill="#ffffff" opacity="0.8"/>
<circle cx="946.8" cy="553.2" r="0.7" fill="#ffffff" opacity="0.8"/>
<circle cx="948.0" cy="563.4" r="0.7" fill="#ffffff" opacity="0.8"/>
<circle cx="943.7" cy="561.9" r="0.7" fill="#ffffff" opacity="0.8"/>
<circle cx="947.8" cy="558.1" r="0.7" fill="#ffffff" opacity="0.8"/>
<circle cx="949.7" cy="559.1" r="0.7" fill="#ffffff" opacity="0.8"/>
<circle cx="946.5" cy="559.3" r="0.7" fill="#ffffff" opacity="0.8"/>
<circle cx="951.0" cy="561.1" r="0.7" fill="#ffffff" opacity="0.8"/>
<circle cx="946.9" cy="563.5" r="0.7" fill="#ffffff" opacity="0.8"/>
<circle cx="954.6" cy="564.0" r="0.7" fill="#ffffff" opacity="0.8"/>
<circle cx="944.8" cy="559.5" r="0.7" fill="#ffffff" opacity="0.8"/>
<circle cx="943.0" cy="560.1" r="0.7" fill="#ffffff" opacity="0.8"/>
<circle cx="1042.0" cy="572.0" r="11.0" fill="#9c1410"/>
<circle cx="1041.5" cy="571.5" r="9.6" fill="#d8261e"/>
<circle cx="1039.2" cy="568.7" r="3.8" fill="#f06050" opacity="0.35"/>
<circle cx="1044.9" cy="569.3" r="0.6" fill="#ffffff" opacity="0.8"/>
<circle cx="1038.6" cy="572.5" r="0.6" fill="#ffffff" opacity="0.8"/>
<circle cx="1045.0" cy="570.3" r="0.6" fill="#ffffff" opacity="0.8"/>
<circle cx="1042.7" cy="567.0" r="0.6" fill="#ffffff" opacity="0.8"/>
<circle cx="1041.8" cy="572.2" r="0.6" fill="#ffffff" opacity="0.8"/>
<circle cx="1043.8" cy="575.8" r="0.6" fill="#ffffff" opacity="0.8"/>
<circle cx="1040.4" cy="567.5" r="0.6" fill="#ffffff" opacity="0.8"/>
<circle cx="1044.3" cy="571.0" r="0.6" fill="#ffffff" opacity="0.8"/>
<circle cx="1044.0" cy="573.3" r="0.6" fill="#ffffff" opacity="0.8"/>
<circle cx="1045.1" cy="575.4" r="0.6" fill="#ffffff" opacity="0.8"/>
<circle cx="1047.1" cy="568.3" r="0.6" fill="#ffffff" opacity="0.8"/>
<circle cx="1043.1" cy="576.6" r="0.6" fill="#ffffff" opacity="0.8"/>
<circle cx="1042.2" cy="574.1" r="0.6" fill="#ffffff" opacity="0.8"/>
<circle cx="1043.2" cy="571.6" r="0.6" fill="#ffffff" opacity="0.8"/>
<circle cx="1047.9" cy="574.4" r="0.6" fill="#ffffff" opacity="0.8"/>
<circle cx="1042.7" cy="573.8" r="0.6" fill="#ffffff" opacity="0.8"/>
<circle cx="1039.4" cy="570.3" r="0.6" fill="#ffffff" opacity="0.8"/>
<circle cx="1027.0" cy="570.0" r="13.5" fill="#9c1410"/>
<circle cx="1026.5" cy="569.5" r="12.1" fill="#d8261e"/>
<circle cx="1023.6" cy="566.0" r="4.7" fill="#f06050" opacity="0.35"/>
<circle cx="1031.3" cy="570.1" r="0.7" fill="#ffffff" opacity="0.8"/>
<circle cx="1025.0" cy="571.2" r="0.7" fill="#ffffff" opacity="0.8"/>
<circle cx="1029.8" cy="573.7" r="0.7" fill="#ffffff" opacity="0.8"/>
<circle cx="1031.7" cy="569.3" r="0.7" fill="#ffffff" opacity="0.8"/>
<circle cx="1027.7" cy="569.8" r="0.7" fill="#ffffff" opacity="0.8"/>
<circle cx="1027.8" cy="574.3" r="0.7" fill="#ffffff" opacity="0.8"/>
<circle cx="1034.1" cy="573.7" r="0.7" fill="#ffffff" opacity="0.8"/>
<circle cx="1029.3" cy="569.7" r="0.7" fill="#ffffff" opacity="0.8"/>
<circle cx="1031.4" cy="569.1" r="0.7" fill="#ffffff" opacity="0.8"/>
<circle cx="1029.5" cy="565.1" r="0.7" fill="#ffffff" opacity="0.8"/>
<circle cx="1027.1" cy="574.2" r="0.7" fill="#ffffff" opacity="0.8"/>
<circle cx="1024.9" cy="565.7" r="0.7" fill="#ffffff" opacity="0.8"/>
<circle cx="1028.0" cy="574.9" r="0.7" fill="#ffffff" opacity="0.8"/>
<circle cx="1033.9" cy="568.9" r="0.7" fill="#ffffff" opacity="0.8"/>
<circle cx="1027.7" cy="569.8" r="0.7" fill="#ffffff" opacity="0.8"/>
<circle cx="1025.8" cy="570.1" r="0.7" fill="#ffffff" opacity="0.8"/>
<circle cx="1027.5" cy="565.7" r="0.7" fill="#ffffff" opacity="0.8"/>
<circle cx="1027.3" cy="569.5" r="0.7" fill="#ffffff" opacity="0.8"/>
<circle cx="1025.5" cy="566.8" r="0.7" fill="#ffffff" opacity="0.8"/>
<circle cx="1031.7" cy="575.2" r="0.7" fill="#ffffff" opacity="0.8"/>
<path d="M392.5,605.5 L1052.7,605.5 L1052.7,980" fill="none" stroke="#e96a14" stroke-width="4.8"/>
<circle cx="392.5" cy="605.8" r="7" fill="#e96a14"/>
<circle cx="965" cy="605.5" r="7" fill="#e96a14"/>
<path d="M253.7,897 L253.7,982" fill="none" stroke="#e96a14" stroke-width="4.8"/>
<circle cx="253.6" cy="897" r="7" fill="#e96a14"/>
<defs><clipPath id="c1"><circle cx="247.3" cy="1089.1" r="105"/></clipPath></defs>
<g clip-path="url(#c1)">
<rect x="251" y="975" width="44" height="230" fill="#e3e5ec"/>
<rect x="259" y="975" width="33" height="230" fill="#f6f7fb"/>
<rect x="290" y="975" width="5" height="230" fill="#dfe1e8"/>
<defs><linearGradient id="hp" x1="0" y1="0" x2="0" y2="1"><stop offset="0" stop-color="#1a2f9c"/><stop offset="0.22" stop-color="#8b96d8"/><stop offset="0.36" stop-color="#1b34a6"/><stop offset="0.6" stop-color="#0a2290"/><stop offset="1" stop-color="#15298e"/></linearGradient><linearGradient id="sv" x1="0" y1="0" x2="1" y2="0"><stop offset="0" stop-color="#0a1f80"/><stop offset="0.12" stop-color="#0a1f80"/><stop offset="0.13" stop-color="#e8ecff"/><stop offset="0.22" stop-color="#e8ecff"/><stop offset="0.23" stop-color="#0b2492"/><stop offset="0.6" stop-color="#0d2896"/><stop offset="1" stop-color="#2142ae"/></linearGradient><linearGradient id="ol" x1="0" y1="0" x2="0" y2="1"><stop offset="0" stop-color="#0c2290"/><stop offset="0.3" stop-color="#2d4cc0"/><stop offset="0.34" stop-color="#dfe6ff"/><stop offset="0.46" stop-color="#dfe6ff"/><stop offset="0.5" stop-color="#1733a8"/><stop offset="1" stop-color="#0a2088"/></linearGradient></defs>
<rect x="130" y="1059" width="95" height="42.5" fill="url(#hp)"/>
<rect x="247.4" y="1019.2" width="51.1" height="125.4" rx="3" fill="url(#sv)"/>
<path d="M232,1055.8 L268,1055.8 Q283,1062 285,1080 Q283,1100 268,1104.8 L232,1104.8 Z" fill="url(#ol)"/>
<rect x="216" y="1055" width="16.3" height="53.5" rx="4" fill="#0e2694"/>
<rect x="218" y="1070" width="14" height="6" fill="#6f80d0" opacity="0.7"/>
<rect x="229" y="1056" width="2.5" height="51" fill="#081a70"/>
</g>
<circle cx="247.3" cy="1089.1" r="106.5" fill="none" stroke="#e96a14" stroke-width="4.8"/>
<path d="M994.6,1137 C993.5,1090 994,1030 997,1010 Q1003,999 1011,1000 Q1020,1002 1023,1014 C1027,1045 1031,1100 1032.5,1137" fill="none" stroke="#d4d4da" stroke-width="4.2" stroke-linecap="round"/>
<path d="M994.6,1137 C993.5,1090 994,1030 997,1010 Q1003,999 1011,1000 Q1020,1002 1023,1014 C1027,1045 1031,1100 1032.5,1137" fill="none" stroke="#fbfbfd" stroke-width="2.3100000000000005" stroke-linecap="round" stroke-dasharray="2.2 1.4"/>
<path d="M1068,1135 C1066,1115 1060,1095 1061,1080 C1064,1055 1071,1020 1075,1006 Q1080,997 1089,998 Q1096,1001 1098,1015 C1100,1060 1101,1105 1101.7,1139" fill="none" stroke="#d4d4da" stroke-width="4.2" stroke-linecap="round"/>
<path d="M1068,1135 C1066,1115 1060,1095 1061,1080 C1064,1055 1071,1020 1075,1006 Q1080,997 1089,998 Q1096,1001 1098,1015 C1100,1060 1101,1105 1101.7,1139" fill="none" stroke="#fbfbfd" stroke-width="2.3100000000000005" stroke-linecap="round" stroke-dasharray="2.2 1.4"/>
<circle cx="1001.1" cy="1150.0" r="14.8" fill="#9c1410"/>
<circle cx="1000.6" cy="1149.5" r="13.4" fill="#d8261e"/>
<circle cx="997.4" cy="1145.6" r="5.2" fill="#f06050" opacity="0.35"/>
<circle cx="1002.3" cy="1149.3" r="0.8" fill="#ffffff" opacity="0.8"/>
<circle cx="1004.0" cy="1149.6" r="0.8" fill="#ffffff" opacity="0.8"/>
<circle cx="999.7" cy="1154.5" r="0.8" fill="#ffffff" opacity="0.8"/>
<circle cx="998.8" cy="1147.7" r="0.8" fill="#ffffff" opacity="0.8"/>
<circle cx="1000.4" cy="1147.4" r="0.8" fill="#ffffff" opacity="0.8"/>
<circle cx="1002.3" cy="1151.2" r="0.8" fill="#ffffff" opacity="0.8"/>
<circle cx="1008.7" cy="1152.1" r="0.8" fill="#ffffff" opacity="0.8"/>
<circle cx="1003.0" cy="1146.1" r="0.8" fill="#ffffff" opacity="0.8"/>
<circle cx="1002.7" cy="1147.5" r="0.8" fill="#ffffff" opacity="0.8"/>
<circle cx="1002.5" cy="1152.7" r="0.8" fill="#ffffff" opacity="0.8"/>
<circle cx="1003.1" cy="1149.8" r="0.8" fill="#ffffff" opacity="0.8"/>
<circle cx="1000.7" cy="1150.0" r="0.8" fill="#ffffff" opacity="0.8"/>
<circle cx="1003.2" cy="1147.5" r="0.8" fill="#ffffff" opacity="0.8"/>
<circle cx="1001.1" cy="1152.5" r="0.8" fill="#ffffff" opacity="0.8"/>
<circle cx="996.3" cy="1148.6" r="0.8" fill="#ffffff" opacity="0.8"/>
<circle cx="998.4" cy="1154.8" r="0.8" fill="#ffffff" opacity="0.8"/>
<circle cx="1004.7" cy="1151.2" r="0.8" fill="#ffffff" opacity="0.8"/>
<circle cx="1003.7" cy="1150.5" r="0.8" fill="#ffffff" opacity="0.8"/>
<circle cx="1004.0" cy="1144.9" r="0.8" fill="#ffffff" opacity="0.8"/>
<circle cx="1003.5" cy="1151.2" r="0.8" fill="#ffffff" opacity="0.8"/>
<circle cx="997.2" cy="1152.6" r="0.8" fill="#ffffff" opacity="0.8"/>
<circle cx="1031.5" cy="1150.0" r="14.8" fill="#9c1410"/>
<circle cx="1031.0" cy="1149.5" r="13.4" fill="#d8261e"/>
<circle cx="1027.8" cy="1145.6" r="5.2" fill="#f06050" opacity="0.35"/>
<circle cx="1035.9" cy="1145.1" r="0.8" fill="#ffffff" opacity="0.8"/>
<circle cx="1032.2" cy="1149.4" r="0.8" fill="#ffffff" opacity="0.8"/>
<circle cx="1031.9" cy="1150.8" r="0.8" fill="#ffffff" opacity="0.8"/>
<circle cx="1028.3" cy="1149.3" r="0.8" fill="#ffffff" opacity="0.8"/>
<circle cx="1033.9" cy="1151.7" r="0.8" fill="#ffffff" opacity="0.8"/>
<circle cx="1033.3" cy="1149.8" r="0.8" fill="#ffffff" opacity="0.8"/>
<circle cx="1035.9" cy="1144.0" r="0.8" fill="#ffffff" opacity="0.8"/>
<circle cx="1036.5" cy="1149.1" r="0.8" fill="#ffffff" opacity="0.8"/>
<circle cx="1028.4" cy="1148.7" r="0.8" fill="#ffffff" opacity="0.8"/>
<circle cx="1027.5" cy="1144.8" r="0.8" fill="#ffffff" opacity="0.8"/>
<circle cx="1032.2" cy="1148.0" r="0.8" fill="#ffffff" opacity="0.8"/>
<circle cx="1036.0" cy="1147.3" r="0.8" fill="#ffffff" opacity="0.8"/>
<circle cx="1028.1" cy="1146.9" r="0.8" fill="#ffffff" opacity="0.8"/>
<circle cx="1040.1" cy="1150.1" r="0.8" fill="#ffffff" opacity="0.8"/>
<circle cx="1031.0" cy="1147.0" r="0.8" fill="#ffffff" opacity="0.8"/>
<circle cx="1029.2" cy="1149.5" r="0.8" fill="#ffffff" opacity="0.8"/>
<circle cx="1034.9" cy="1153.5" r="0.8" fill="#ffffff" opacity="0.8"/>
<circle cx="1037.6" cy="1150.8" r="0.8" fill="#ffffff" opacity="0.8"/>
<circle cx="1030.9" cy="1147.5" r="0.8" fill="#ffffff" opacity="0.8"/>
<circle cx="1025.5" cy="1147.3" r="0.8" fill="#ffffff" opacity="0.8"/>
<circle cx="1034.2" cy="1149.4" r="0.8" fill="#ffffff" opacity="0.8"/>
<circle cx="1069.4" cy="1150.0" r="14.8" fill="#161c58"/>
<circle cx="1068.9" cy="1149.5" r="13.4" fill="#28338e"/>
<circle cx="1065.7" cy="1145.6" r="5.2" fill="#4a58b8" opacity="0.35"/>
<circle cx="1072.6" cy="1145.7" r="0.8" fill="#ffffff" opacity="0.8"/>
<circle cx="1074.2" cy="1150.8" r="0.8" fill="#ffffff" opacity="0.8"/>
<circle cx="1071.2" cy="1150.5" r="0.8" fill="#ffffff" opacity="0.8"/>
<circle cx="1063.2" cy="1148.4" r="0.8" fill="#ffffff" opacity="0.8"/>
<circle cx="1067.8" cy="1155.5" r="0.8" fill="#ffffff" opacity="0.8"/>
<circle cx="1070.8" cy="1149.1" r="0.8" fill="#ffffff" opacity="0.8"/>
<circle cx="1074.5" cy="1146.7" r="0.8" fill="#ffffff" opacity="0.8"/>
<circle cx="1076.9" cy="1147.7" r="0.8" fill="#ffffff" opacity="0.8"/>
<circle cx="1071.0" cy="1147.6" r="0.8" fill="#ffffff" opacity="0.8"/>
<circle cx="1074.0" cy="1143.8" r="0.8" fill="#ffffff" opacity="0.8"/>
<circle cx="1073.7" cy="1147.6" r="0.8" fill="#ffffff" opacity="0.8"/>
<circle cx="1071.4" cy="1146.6" r="0.8" fill="#ffffff" opacity="0.8"/>
<circle cx="1071.5" cy="1150.2" r="0.8" fill="#ffffff" opacity="0.8"/>
<circle cx="1072.7" cy="1150.7" r="0.8" fill="#ffffff" opacity="0.8"/>
<circle cx="1073.5" cy="1153.0" r="0.8" fill="#ffffff" opacity="0.8"/>
<circle cx="1069.7" cy="1146.4" r="0.8" fill="#ffffff" opacity="0.8"/>
<circle cx="1066.1" cy="1152.2" r="0.8" fill="#ffffff" opacity="0.8"/>
<circle cx="1069.8" cy="1153.1" r="0.8" fill="#ffffff" opacity="0.8"/>
<circle cx="1071.3" cy="1147.2" r="0.8" fill="#ffffff" opacity="0.8"/>
<circle cx="1074.6" cy="1155.8" r="0.8" fill="#ffffff" opacity="0.8"/>
<circle cx="1070.6" cy="1147.4" r="0.8" fill="#ffffff" opacity="0.8"/>
<circle cx="1100.8" cy="1152.8" r="14.8" fill="#161c58"/>
<circle cx="1100.3" cy="1152.3" r="13.4" fill="#28338e"/>
<circle cx="1097.1" cy="1148.4" r="5.2" fill="#4a58b8" opacity="0.35"/>
<circle cx="1099.3" cy="1155.5" r="0.8" fill="#ffffff" opacity="0.8"/>
<circle cx="1100.9" cy="1151.9" r="0.8" fill="#ffffff" opacity="0.8"/>
<circle cx="1104.4" cy="1152.8" r="0.8" fill="#ffffff" opacity="0.8"/>
<circle cx="1102.8" cy="1151.8" r="0.8" fill="#ffffff" opacity="0.8"/>
<circle cx="1100.9" cy="1153.1" r="0.8" fill="#ffffff" opacity="0.8"/>
<circle cx="1103.0" cy="1154.0" r="0.8" fill="#ffffff" opacity="0.8"/>
<circle cx="1101.3" cy="1153.5" r="0.8" fill="#ffffff" opacity="0.8"/>
<circle cx="1103.5" cy="1152.9" r="0.8" fill="#ffffff" opacity="0.8"/>
<circle cx="1104.7" cy="1155.8" r="0.8" fill="#ffffff" opacity="0.8"/>
<circle cx="1102.8" cy="1152.9" r="0.8" fill="#ffffff" opacity="0.8"/>
<circle cx="1099.1" cy="1153.7" r="0.8" fill="#ffffff" opacity="0.8"/>
<circle cx="1102.4" cy="1152.5" r="0.8" fill="#ffffff" opacity="0.8"/>
<circle cx="1099.7" cy="1154.4" r="0.8" fill="#ffffff" opacity="0.8"/>
<circle cx="1111.0" cy="1153.9" r="0.8" fill="#ffffff" opacity="0.8"/>
<circle cx="1102.7" cy="1153.5" r="0.8" fill="#ffffff" opacity="0.8"/>
<circle cx="1101.1" cy="1153.0" r="0.8" fill="#ffffff" opacity="0.8"/>
<circle cx="1100.4" cy="1151.1" r="0.8" fill="#ffffff" opacity="0.8"/>
<circle cx="1102.9" cy="1153.1" r="0.8" fill="#ffffff" opacity="0.8"/>
<circle cx="1102.2" cy="1150.9" r="0.8" fill="#ffffff" opacity="0.8"/>
<circle cx="1103.5" cy="1149.6" r="0.8" fill="#ffffff" opacity="0.8"/>
<circle cx="1105.0" cy="1151.9" r="0.8" fill="#ffffff" opacity="0.8"/>
<circle cx="1004.8" cy="1164" r="2.6" fill="#e8e8ea" stroke="#b0b0b8" stroke-width="0.6"/>
<circle cx="1034.3" cy="1166" r="2.6" fill="#e8e8ea" stroke="#b0b0b8" stroke-width="0.6"/>
<circle cx="1067.6" cy="1166" r="2.6" fill="#e8e8ea" stroke="#b0b0b8" stroke-width="0.6"/>
<circle cx="1099.8" cy="1170" r="2.6" fill="#e8e8ea" stroke="#b0b0b8" stroke-width="0.6"/>
<circle cx="1050" cy="1087.7" r="106.5" fill="none" stroke="#e96a14" stroke-width="4.8"/>
<g font-family="Liberation Sans, sans-serif" font-size="28" fill="#232a33">
<text x="49" y="1252.5" textLength="397" lengthAdjust="spacingAndGlyphs">Includes 2 PVC pipe upright</text>
<text x="89.8" y="1288.5" textLength="317.6" lengthAdjust="spacingAndGlyphs">ladder-shaped targets</text>
<text x="808.2" y="1253.5" textLength="484.8" lengthAdjust="spacingAndGlyphs">Each set comes with 3 blue bolas,</text>
<text x="938" y="1290" textLength="224.4" lengthAdjust="spacingAndGlyphs">and 3 red bolas</text>
</g>
</svg>
</body></html>
